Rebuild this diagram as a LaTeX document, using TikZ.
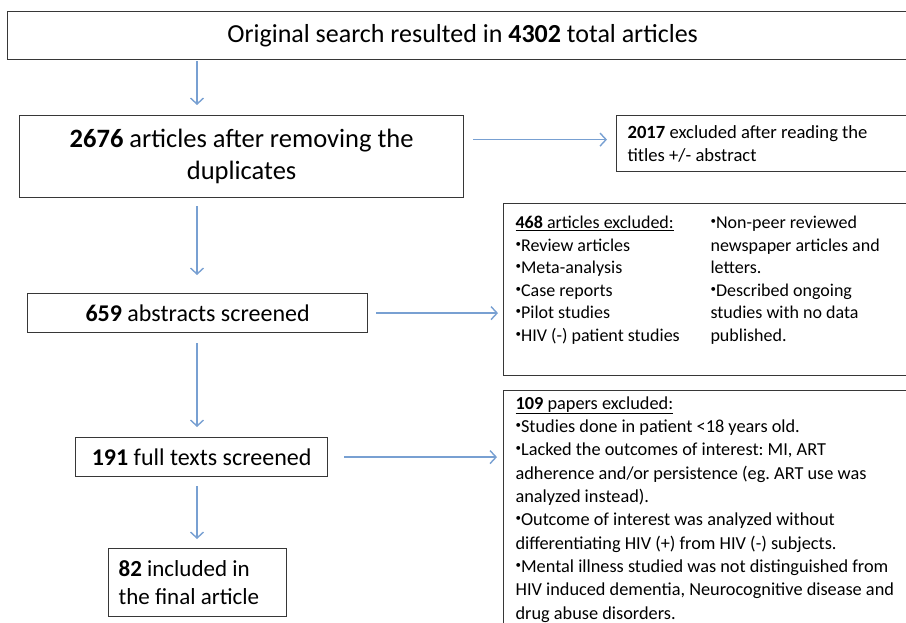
\documentclass[tikz,border=0pt]{standalone}
\usepackage{fontspec}
\setmainfont{Carlito}
\usetikzlibrary{arrows.meta}
\definecolor{flowblue}{RGB}{120,160,210}
\definecolor{boxgray}{RGB}{55,55,55}
\newcommand{\bul}{\raisebox{4pt}{\fontsize{11}{11}\selectfont•}}
\tikzset{
  box/.style={draw=boxgray, line width=1.2pt, inner sep=0pt, anchor=north west},
  flow/.style={draw=flowblue, line width=1.4pt, -{Straight Barb[length=6pt,width=13pt]}},
  big/.style={font=\fontsize{24}{32}\selectfont},
  small/.style={font=\fontsize{18.3}{23.3}\selectfont\frenchspacing},
}

\begin{document}
\begin{tikzpicture}[x=1pt,y=-1pt]
        \useasboundingbox (0,0) rectangle (906,623);
        \node (top) [box, minimum width=910pt, minimum height=48pt, font=\fontsize{26}{30}\selectfont] at (7,11) {Original search resulted in \textbf{4302} total articles};
        \node (dup) [box, align=center, minimum width=444pt, minimum height=82pt, font=\fontsize{26.5}{32}\selectfont] at (19,115) {\textbf{2676} articles after removing the\\duplicates};
        \node (abs) [box, big, minimum width=340pt, minimum height=39pt] at (27,293) {\textbf{659} abstracts screened};
        \node (full) [box, big, minimum width=252pt, minimum height=39pt] at (75,437) {\textbf{191} full texts screened};
        \node (fin) [box, font=\fontsize{23}{28}\selectfont, align=flush left, text width=158pt, inner xsep=10pt, minimum height=68pt] at (108,548) {\textbf{82} included in\\the final article};
        \node (excl1) [box, font=\fontsize{18.6}{23}\selectfont, align=flush left, text width=268pt, inner xsep=11pt, minimum height=56pt] at (616,115) {\textbf{2017} excluded after reading the\\titles +/- abstract};
        \node (excl2) [box, font=\fontsize{18}{22.6}\selectfont, inner xsep=12pt, inner ysep=9pt] at (503,203) {%
                \begin{tabular}{@{}p{195pt}@{}p{213pt}@{}}
                \underline{\textbf{468} articles excluded:} & \bul Non-peer reviewed\\
                \bul Review articles & newspaper articles and\\
                \bul Meta-analysis & letters.\\
                \bul Case reports & \bul Described ongoing\\
                \bul Pilot studies & studies with no data\\
                \bul HIV (-) patient studies & published.\\[18pt]
                \end{tabular}};
        \node (excl3) [box, small, align=flush left, text width=400pt, inner xsep=12pt, inner ysep=6pt] at (503,390) {%
                \underline{\textbf{109} papers excluded:}\\
                \bul Studies done in patient <18 years old.\\
                \bul Lacked the outcomes of interest: MI, ART\\
                adherence and/or persistence (eg. ART use was\\
                analyzed instead).\\
                \bul Outcome of interest was analyzed without\\
                differentiating HIV (+) from HIV (-) subjects.\\
                \bul Mental illness studied was not distinguished from\\
                HIV induced dementia, Neurocognitive disease and\\
                drug abuse disorders.};
        \coordinate (spine) at (197,0);
        \draw (top.south -| spine) edge [flow, shorten <=1pt, shorten >=10pt] (dup.north -| spine);
        \draw (dup.south -| spine) edge [flow, shorten <=8pt, shorten >=18pt] (abs.north -| spine);
        \draw (abs.south -| spine) edge [flow, shorten <=10pt, shorten >=10pt] (full.north -| spine);
        \draw (full.south -| spine) edge [flow, shorten <=9pt, shorten >=9pt] (fin.north -| spine);
        \draw ([yshift=4pt]excl1.west -| dup.east) edge [flow, shorten <=9pt, shorten >=9pt] ([yshift=4pt]excl1.west);
        \draw (abs.east) edge [flow, shorten <=8pt, shorten >=5pt] (abs.east -| excl2.west);
        \draw (full.east) edge [flow, shorten <=16pt, shorten >=6pt] (full.east -| excl3.west);
\end{tikzpicture}
\end{document}
